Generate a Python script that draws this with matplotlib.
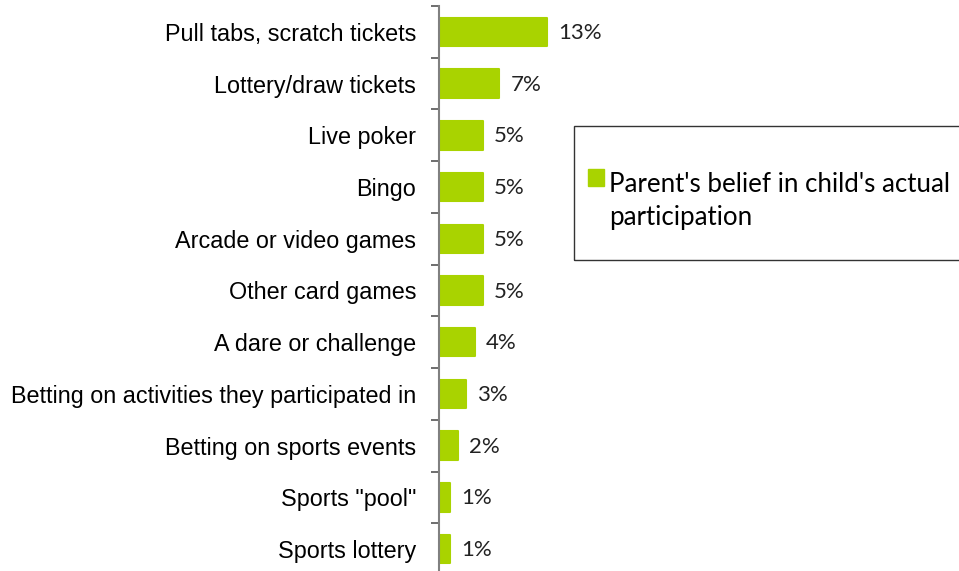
import matplotlib.pyplot as plt
from matplotlib.patches import Rectangle, Patch
from matplotlib.legend_handler import HandlerPatch

# activity categories, top to bottom
categories = [
    "Pull tabs, scratch tickets",
    "Lottery/draw tickets",
    "Live poker",
    "Bingo",
    "Arcade or video games",
    "Other card games",
    "A dare or challenge",
    "Betting on activities they participated in",
    "Betting on sports events",
    'Sports "pool"',
    "Sports lottery",
]
# percent of parents
values = [12.7, 7.1, 5.2, 5.2, 5.2, 5.2, 4.2, 3.2, 2.2, 1.3, 1.3]
legend_lines = ["Parent's belief in child's actual", "participation"]

bar_color = "#a9d300"
W, H = 959, 571

fig = plt.figure(figsize=(W / 100, H / 100), dpi=100)
ax = fig.add_axes([439 / W, -4 / H, (W - 439) / W, 569 / H])

y = list(range(len(categories)))
ax.barh(y, values, height=0.55, color=bar_color, edgecolor=bar_color,
        linewidth=1.5, joinstyle="round")

for yi, v in zip(y, values):
    ax.text(v + 1.3, yi + 0.02, f"{v:.0f}%", va="center", ha="left",
            fontsize=16, family="Lato", color="#222222")

ax.set_ylim(len(categories) - 0.5, -0.5)
ax.set_xlim(0, (W - 439) / 8.5)

ax.set_yticks(y)
ax.set_yticklabels(categories, fontsize=16.8, family="Liberation Sans")
ax.tick_params(axis="y", which="major", length=0, pad=16.5)
ax.set_yticks([i - 0.5 for i in range(len(categories) + 1)], minor=True)
ax.tick_params(axis="y", which="minor", length=6, width=1.2, color="#555555")
ax.set_xticks([])

for s in ["top", "right", "bottom"]:
    ax.spines[s].set_visible(False)
ax.spines["left"].set_color("#808080")
ax.spines["left"].set_linewidth(1.5)


# swatch sits a little higher than the text centre, like the original
def raised_square(legend, orig_handle, xdescent, ydescent, width, height, fontsize):
    return Rectangle((-xdescent, -ydescent + 4), width, height)


# legend with a plain rectangular frame; second line has no swatch
fig.patches.append(Rectangle((574 / W, 1 - 260 / H), (W - 574 + 5) / W, 134 / H,
                             transform=fig.transFigure, fill=False,
                             edgecolor="#333333", linewidth=1.0))
handles = [Patch(facecolor=bar_color, edgecolor=bar_color),
           Patch(facecolor="none", edgecolor="none")]
leg = fig.legend(handles, legend_lines, loc="upper left",
                 bbox_to_anchor=(588 / W, 1 - 172 / H), frameon=False,
                 prop={"family": "Lato", "size": 18.6}, handlelength=0.63,
                 handleheight=0.63, handletextpad=0.2, borderaxespad=0,
                 borderpad=0, labelspacing=0.3,
                 handler_map={Patch: HandlerPatch(patch_func=raised_square)})

fig.savefig("out.png", dpi=100)
